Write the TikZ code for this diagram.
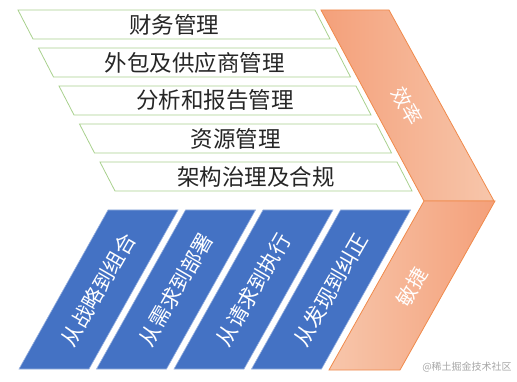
\documentclass[tikz,border=0pt]{standalone}
\usepackage{fontspec}
\setmainfont{Noto Sans CJK SC}
\usepackage{tikz}

\definecolor{rowgreen}{HTML}{A9D18E}
\definecolor{barblue}{HTML}{4472C4}
\definecolor{chevorange}{HTML}{F08A4B}
\definecolor{chevdark}{HTML}{F4A07A}
\definecolor{chevlight}{HTML}{F7C6AB}

\begin{document}
\begin{tikzpicture}[
  x=1pt, y=-1pt,
  greenrow/.style={draw=rowgreen, line width=0.8pt, fill=white},
  rowtext/.style={font=\fontsize{22.5}{26}\selectfont, text=black!85},
  bluebar/.style={draw=barblue!55!white, line width=0.6pt, fill=barblue},
  bartext/.style={font=\fontsize{21}{24}\selectfont, text=white, rotate=60},
  chevron/.style={draw=chevorange, line width=0.8pt},
  chevtext/.style={font=\fontsize{20}{22}\selectfont, text=white}
]
\useasboundingbox (0,0) rectangle (517,382);

%% ── Bandes vertes ───────────────────────────────────────────────
\foreach \lbl [count=\i from 0] in {财务管理, 外包及供应商管理, 分析和报告管理,
    资源管理, 架构治理及合规} {
  \draw[greenrow] ({18+20.5*\i},{10+38*\i}) -- ++(297,0) -- ++(15,29)
    -- ++(-297,0) -- cycle;
  \node[rowtext] (row\i) at ({174+20.5*\i},{24.5+38*\i}) {\lbl};
}

%% ── Barres bleues ───────────────────────────────────────────────
\foreach \lbl [count=\i from 0] in {从战略到组合, 从需求到部署, 从请求到执行,
    从发现到纠正} {
  \draw[bluebar] ({108+77.5*\i},210) -- ++(70,0) -- ++(-89,159)
    -- ++(-70,0) -- cycle;
  \node[bartext] (bar\i) at ({98.5+77.5*\i},289.5) {\lbl};
}

%% ── Chevron orange ──────────────────────────────────────────────
\draw[chevron, left color=chevdark, right color=chevlight]
  (321,10) -- (389,10) -- (494,201) -- (424,201) -- cycle;
\draw[chevron, left color=chevlight, right color=chevdark]
  (424,201) -- (495,201) -- (400,370) -- (329,370) -- cycle;

\node[chevtext, rotate=-61] (eff) at (407,106) {效率};
\node[chevtext, rotate=60] (agile) at (412,287) {敏捷};

%% ── Filigrane ───────────────────────────────────────────────────
\node[font=\fontsize{10}{12}\selectfont, text=black!35] (mark) at (467,367)
  {@稀土掘金技术社区};

\end{tikzpicture}
\end{document}
